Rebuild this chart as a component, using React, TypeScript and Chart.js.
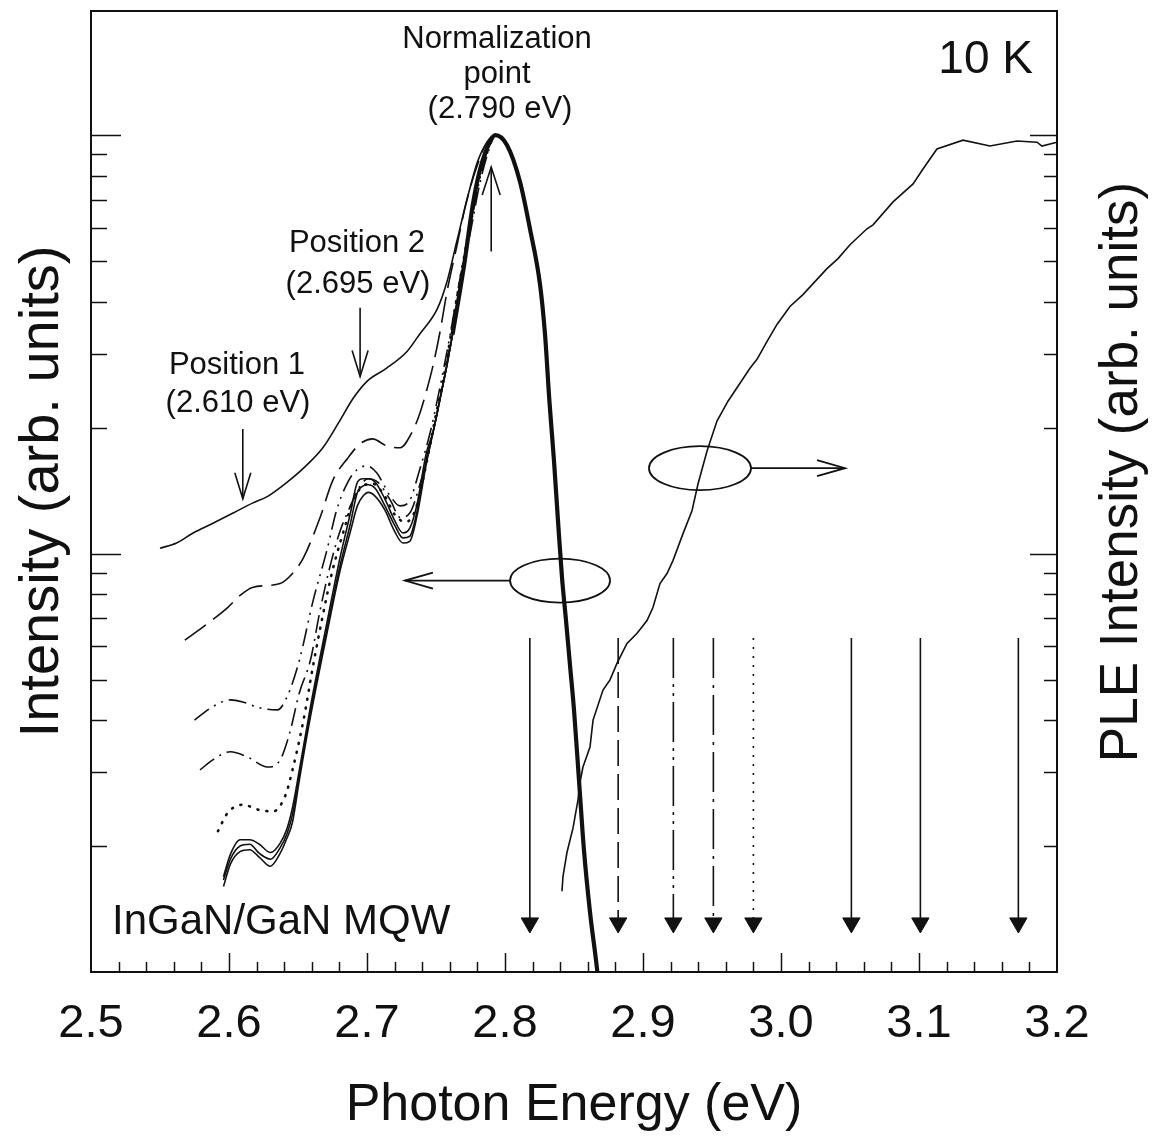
import React, { useEffect, useRef } from 'react';
import { Chart, registerables } from 'chart.js';

Chart.register(...registerables);

const FONT = '"Liberation Sans", Arial, Helvetica, sans-serif';
const W = 1153;
const H = 1138;

// ---------------- data (photon energy in eV, intensity in arb. units, log scale) ----------------
const xTickValues = [2.5, 2.6, 2.7, 2.8, 2.9, 3.0, 3.1, 3.2];

// excitation energies (arrows)
const excitationEnergies = [2.818, 2.882, 2.922, 2.951, 2.98, 3.051, 3.101, 3.172];
const excitationDash: number[][] = [[], [26, 8], [40, 6, 3, 6, 3, 6], [40, 7, 3, 7], [2, 7], [], [], []];
const arrowTopI = 0.628;
const arrowTipI = 0.131;

// shared high-energy flank of the PL spectra
const flankE = [2.8014, 2.8109, 2.8181, 2.8254, 2.829, 2.8322, 2.8355, 2.8384, 2.8413, 2.8442, 2.8471];
const flankI = [9.47, 7.73, 5.97, 4.39, 3.34, 2.31, 1.665, 1.198, 0.877, 0.693, 0.541];

// PL, excitation 2.818 eV (thin solid, top)
const pl1E = [2.55, 2.562, 2.574, 2.588, 2.603, 2.617, 2.628, 2.642, 2.654, 2.668, 2.68, 2.69, 2.7, 2.714, 2.729, 2.738, 2.751, 2.758, 2.765, 2.772, 2.78, 2.787, 2.793];
const pl1I = [1.03, 1.06, 1.12, 1.18, 1.25, 1.32, 1.37, 1.48, 1.6, 1.79, 2.07, 2.35, 2.58, 2.77, 3.04, 3.34, 3.85, 4.47, 5.56, 6.92, 8.62, 9.62, 10];

// PL, excitation 2.882 eV (long dash)
const pl2E = [2.568, 2.581, 2.599, 2.608, 2.617, 2.637, 2.646, 2.654, 2.666, 2.675, 2.686, 2.695, 2.704, 2.714, 2.724, 2.733, 2.738, 2.743, 2.748, 2.753, 2.758, 2.765, 2.772, 2.78, 2.787, 2.793];
const pl2I = [0.621, 0.667, 0.743, 0.794, 0.83, 0.848, 0.896, 0.978, 1.22, 1.49, 1.69, 1.83, 1.88, 1.81, 1.79, 1.96, 2.15, 2.44, 2.83, 3.4, 4.23, 5.41, 6.92, 8.48, 9.62, 10];

// PL, excitation 2.922 eV (dash-dot-dot)
const pl3E = [2.575, 2.588, 2.601, 2.61, 2.622, 2.635, 2.642, 2.651, 2.661, 2.671, 2.678, 2.686, 2.693, 2.7, 2.707, 2.717, 2.724, 2.731, 2.738, 2.746, 2.753, 2.76, 2.767, 2.775, 2.782, 2.789, 2.793];
const pl3I = [0.4, 0.43, 0.447, 0.442, 0.428, 0.423, 0.454, 0.556, 0.773, 1.02, 1.27, 1.48, 1.59, 1.62, 1.56, 1.37, 1.3, 1.34, 1.58, 1.96, 2.51, 3.3, 4.47, 6.04, 7.94, 9.52, 10];

// PL, excitation 2.951 eV (dash-dot)
const pl4E = [2.579, 2.588, 2.601, 2.613, 2.628, 2.637, 2.644, 2.651, 2.659, 2.666, 2.673, 2.68, 2.688, 2.695, 2.701, 2.708, 2.717, 2.724, 2.731, 2.738, 2.746, 2.753, 2.76, 2.767, 2.775, 2.782, 2.789, 2.793];
const pl4I = [0.304, 0.321, 0.336, 0.327, 0.309, 0.321, 0.373, 0.465, 0.556, 0.732, 0.926, 1.12, 1.3, 1.45, 1.51, 1.48, 1.34, 1.22, 1.25, 1.45, 1.83, 2.35, 3.13, 4.3, 5.87, 7.73, 9.36, 10];

// PL, excitation 2.980 eV (dotted)
const pl5E = [2.592, 2.599, 2.61, 2.622, 2.632, 2.641, 2.646, 2.654, 2.661, 2.668, 2.675, 2.683, 2.69, 2.697, 2.704, 2.713, 2.72, 2.728, 2.735, 2.742, 2.749, 2.757, 2.764, 2.771, 2.778, 2.786, 2.793];
const pl5I = [0.217, 0.24, 0.251, 0.244, 0.242, 0.265, 0.304, 0.4, 0.541, 0.712, 0.911, 1.13, 1.34, 1.45, 1.47, 1.37, 1.24, 1.19, 1.27, 1.58, 2.07, 2.8, 3.89, 5.26, 7.12, 8.87, 10];

// PL, excitation 3.051 / 3.101 / 3.172 eV (solid)
const plSolidE = [2.596, 2.601, 2.608, 2.615, 2.622, 2.63, 2.637, 2.642, 2.646, 2.651, 2.659, 2.671, 2.68, 2.688, 2.693, 2.697, 2.701, 2.706, 2.713, 2.72, 2.726, 2.731, 2.736, 2.743, 2.748, 2.753, 2.758, 2.762, 2.77, 2.777, 2.782, 2.789, 2.793];
const pl6I = [0.169, 0.191, 0.207, 0.207, 0.202, 0.193, 0.203, 0.22, 0.247, 0.304, 0.43, 0.685, 0.962, 1.25, 1.48, 1.51, 1.51, 1.48, 1.35, 1.2, 1.12, 1.15, 1.3, 1.74, 1.96, 2.35, 2.83, 3.34, 4.8, 6.92, 8.3, 9.62, 10];
const pl7I = [0.166, 0.186, 0.2, 0.202, 0.192, 0.186, 0.198, 0.214, 0.238, 0.297, 0.418, 0.663, 0.921, 1.18, 1.4, 1.45, 1.46, 1.43, 1.3, 1.17, 1.09, 1.1, 1.25, 1.68, 1.96, 2.35, 2.83, 3.34, 4.8, 6.92, 8.3, 9.62, 10];
const pl8I = [0.16, 0.181, 0.194, 0.196, 0.188, 0.179, 0.192, 0.209, 0.228, 0.288, 0.407, 0.645, 0.896, 1.13, 1.3, 1.37, 1.4, 1.37, 1.27, 1.13, 1.06, 1.07, 1.22, 1.64, 1.96, 2.35, 2.83, 3.34, 4.8, 6.92, 8.3, 9.62, 10];

// heavy curve around the peak and its full high-energy tail
const thickE = [2.762, 2.77, 2.777, 2.782, 2.789, 2.793, 2.8014, 2.8109, 2.8181, 2.8254, 2.829, 2.8322, 2.8355, 2.8384, 2.8413, 2.8442, 2.8471, 2.85, 2.8536, 2.8572, 2.8616, 2.8667, 2.8674];
const thickI = [3.34, 4.8, 6.92, 8.3, 9.62, 10, 9.47, 7.73, 5.97, 4.39, 3.34, 2.31, 1.665, 1.198, 0.877, 0.693, 0.541, 0.423, 0.288, 0.196, 0.139, 0.1016, 0.0962];

// PLE spectrum (right axis)
const pleE = [2.8413, 2.842, 2.8449, 2.8493, 2.8529, 2.8543, 2.8565, 2.8616, 2.8638, 2.871, 2.8761, 2.8812, 2.8884, 2.8957, 2.9029, 2.9072, 2.9123, 2.9174, 2.9217, 2.929, 2.9355, 2.9399, 2.9464, 2.9536, 2.9616, 2.9775, 2.9826, 2.9899, 2.9971, 3.0065, 3.0159, 3.0333, 3.0413, 3.05, 3.0623, 3.0667, 3.0812, 3.0957, 3.1029, 3.113, 3.1319, 3.1514, 3.171, 3.1855, 3.1891, 3.2];
const pleI = [0.156, 0.169, 0.193, 0.221, 0.258, 0.283, 0.309, 0.345, 0.4, 0.472, 0.499, 0.547, 0.61, 0.645, 0.692, 0.743, 0.848, 0.896, 0.962, 1.116, 1.266, 1.468, 1.758, 2.073, 2.313, 2.773, 2.912, 3.215, 3.529, 3.894, 4.157, 4.797, 5.069, 5.47, 5.973, 6.105, 6.925, 7.644, 8.298, 9.263, 9.729, 9.418, 9.68, 9.619, 9.418, 9.619];

const Y_MIN = 0.1;
const Y_MAX = 19.8;

// ---------------- helpers ----------------
const pts = (E: number[], I: number[]) => E.map((x, i) => ({ x, y: I[i] }));

function openArrow(ctx: CanvasRenderingContext2D, x1: number, y1: number, x2: number, y2: number, head = 27, half = 8) {
  ctx.beginPath();
  ctx.moveTo(x1, y1);
  ctx.lineTo(x2, y2);
  ctx.stroke();
  const ang = Math.atan2(y2 - y1, x2 - x1);
  const bx = x2 - head * Math.cos(ang);
  const by = y2 - head * Math.sin(ang);
  const nx = -Math.sin(ang) * half;
  const ny = Math.cos(ang) * half;
  ctx.beginPath();
  ctx.moveTo(bx + nx, by + ny);
  ctx.lineTo(x2, y2);
  ctx.lineTo(bx - nx, by - ny);
  ctx.stroke();
}

const decorPlugin = {
  id: 'decor',
  afterDatasetsDraw(chart: any) {
    const { ctx, chartArea: a, scales } = chart;
    const xs = scales.x;
    const ys = scales.y;
    const px = (e: number) => xs.getPixelForValue(e);
    const py = (v: number) => ys.getPixelForValue(v);
    ctx.save();
    ctx.strokeStyle = '#111';
    ctx.fillStyle = '#111';
    ctx.setLineDash([]);

    // frame
    ctx.lineWidth = 2;
    ctx.strokeRect(a.left, a.top, a.right - a.left, a.bottom - a.top);

    // x ticks (inward)
    ctx.lineWidth = 1.5;
    for (let k = 1; k < 35; k++) {
      const v = 2.5 + k * 0.02;
      const x = Math.round(px(v)) + 0.5;
      const len = k % 5 === 0 ? 19 : 10;
      ctx.beginPath();
      ctx.moveTo(x, a.bottom);
      ctx.lineTo(x, a.bottom - len);
      ctx.stroke();
    }
    // log y ticks both sides
    const logTicks: number[] = [];
    for (const dec of [0.1, 1, 10]) for (let m = 1; m <= 9; m++) logTicks.push(+(m * dec).toFixed(3));
    for (const v of logTicks) {
      if (v <= Y_MIN || v >= Y_MAX) continue;
      const y = Math.round(py(v)) + 0.5;
      const major = v === 1 || v === 10;
      ctx.beginPath();
      ctx.moveTo(a.left, y);
      ctx.lineTo(a.left + (major ? 30 : 16), y);
      ctx.moveTo(a.right, y);
      ctx.lineTo(a.right - (major ? 27 : 13), y);
      ctx.stroke();
    }

    // annotation arrows
    ctx.lineWidth = 1.6;
    openArrow(ctx, px(2.61), py(1.985), px(2.61), py(1.352), 26, 8);
    openArrow(ctx, px(2.695), py(3.87), px(2.695), py(2.65), 26, 8);
    openArrow(ctx, px(2.79), py(5.27), px(2.79), py(8.39), 28, 9);

    // ellipses with arrows
    ctx.lineWidth = 1.8;
    const plCx = px(2.8399), plCy = py(0.862);
    ctx.beginPath();
    ctx.ellipse(plCx, plCy, 50, 22, 0, 0, Math.PI * 2);
    ctx.stroke();
    openArrow(ctx, plCx - 50, plCy, px(2.7275), plCy, 28, 8);
    const pleCx = px(2.9413), pleCy = py(1.6);
    ctx.beginPath();
    ctx.ellipse(pleCx, pleCy, 51, 22, 0, 0, Math.PI * 2);
    ctx.stroke();
    openArrow(ctx, pleCx + 51, pleCy, px(3.0464), pleCy, 28, 8);

    // texts
    ctx.textBaseline = 'alphabetic';
    ctx.textAlign = 'center';
    ctx.font = `31px ${FONT}`;
    ctx.fillText('Normalization', 497, 48);
    ctx.fillText('point', 497, 83);
    ctx.fillText('(2.790 eV)', 500, 118);
    ctx.fillText('Position 2', 357, 252);
    ctx.fillText('(2.695 eV)', 358, 293);
    ctx.fillText('Position 1', 237, 374);
    ctx.fillText('(2.610 eV)', 238, 412);
    ctx.textAlign = 'right';
    ctx.font = `46px ${FONT}`;
    ctx.fillText('10 K', 1033, 73);
    ctx.textAlign = 'left';
    ctx.font = `42px ${FONT}`;
    ctx.fillText('InGaN/GaN MQW', 112, 934);

    // right axis title (reads bottom to top)
    ctx.save();
    ctx.translate(1122, 472);
    ctx.rotate(-Math.PI / 2);
    ctx.textAlign = 'center';
    ctx.textBaseline = 'middle';
    ctx.font = `53px ${FONT}`;
    ctx.fillText('PLE Intensity (arb. units)', 0, 0);
    ctx.restore();

    ctx.restore();
  },
};

export default function App() {
  const ref = useRef<HTMLCanvasElement>(null);

  useEffect(() => {
    const canvas = ref.current;
    if (!canvas) return;

    const base = {
      borderColor: '#111',
      borderWidth: 1.6,
      pointRadius: 0,
      pointHoverRadius: 0,
      fill: false,
      cubicInterpolationMode: 'monotone' as const,
      yAxisID: 'y',
    };

    const plDatasets = [
      { label: 'PL 2.818 eV', data: pts(pl1E.concat(flankE), pl1I.concat(flankI)), borderDash: [] as number[] },
      { label: 'PL 2.882 eV', data: pts(pl2E.concat(flankE), pl2I.concat(flankI)), borderDash: [26, 9] },
      { label: 'PL 2.922 eV', data: pts(pl3E.concat(flankE), pl3I.concat(flankI)), borderDash: [18, 6, 2, 6, 2, 6] },
      { label: 'PL 2.951 eV', data: pts(pl4E.concat(flankE), pl4I.concat(flankI)), borderDash: [18, 6, 2, 6] },
      { label: 'PL 2.980 eV', data: pts(pl5E.concat(flankE), pl5I.concat(flankI)), borderDash: [1, 8], borderWidth: 2.6, borderCapStyle: 'round' as const },
      { label: 'PL 3.051 eV', data: pts(plSolidE.concat(flankE), pl6I.concat(flankI)), borderDash: [] as number[] },
      { label: 'PL 3.101 eV', data: pts(plSolidE.concat(flankE), pl7I.concat(flankI)), borderDash: [] as number[] },
      { label: 'PL 3.172 eV', data: pts(plSolidE.concat(flankE), pl8I.concat(flankI)), borderDash: [] as number[] },
    ].map((d) => ({ ...base, ...d }));

    const thick = { ...base, label: 'PL peak', data: pts(thickE, thickI), borderWidth: 4.2 };

    const ple = { ...base, label: 'PLE', data: pts(pleE, pleI), yAxisID: 'y2', cubicInterpolationMode: 'default' as const, tension: 0 };

    const arrows = excitationEnergies.map((e, i) => ({
      label: `exc ${e}`,
      data: [
        { x: e, y: arrowTopI },
        { x: e, y: arrowTipI },
      ],
      borderColor: '#111',
      borderWidth: 1.6,
      borderDash: excitationDash[i],
      borderCapStyle: 'butt' as const,
      pointRadius: [0, 10],
      pointStyle: 'triangle' as const,
      pointRotation: 180,
      pointBackgroundColor: '#111',
      pointBorderColor: '#111',
      pointBorderWidth: 1,
      fill: false,
      tension: 0,
      yAxisID: 'y',
    }));

    const chart = new Chart(canvas, {
      type: 'line',
      data: { datasets: [...plDatasets, thick, ple, ...arrows] as any },
      plugins: [decorPlugin],
      options: {
        responsive: false,
        animation: false,
        devicePixelRatio: 1,
        events: [],
        layout: { padding: { top: 8, left: 0, right: 0, bottom: 0 } },
        plugins: { legend: { display: false }, tooltip: { enabled: false } },
        scales: {
          x: {
            type: 'linear',
            position: 'bottom',
            min: 2.5,
            max: 3.2,
            afterBuildTicks: (s: any) => {
              s.ticks = xTickValues.map((v) => ({ value: v }));
            },
            ticks: {
              autoSkip: false,
              maxRotation: 0,
              padding: 24,
              color: '#111',
              font: { family: FONT, size: 47 },
              callback: (v: any) => Number(v).toFixed(1),
            },
            grid: { display: false, drawTicks: false },
            border: { display: false },
            title: {
              display: true,
              text: 'Photon Energy (eV)',
              color: '#111',
              font: { family: FONT, size: 52 },
              padding: { top: 0, bottom: 1 },
            },
            afterFit: (s: any) => {
              s.height = 166;
            },
          },
          y: {
            type: 'logarithmic',
            position: 'left',
            min: Y_MIN,
            max: Y_MAX,
            ticks: { display: false },
            grid: { display: false, drawTicks: false },
            border: { display: false },
            title: {
              display: true,
              text: 'Intensity (arb. units)',
              color: '#111',
              font: { family: FONT, size: 56 },
              padding: { top: 9, bottom: 0 },
            },
            afterFit: (s: any) => {
              s.width = 91;
            },
          },
          y2: {
            type: 'logarithmic',
            position: 'right',
            min: Y_MIN,
            max: Y_MAX,
            ticks: { display: false },
            grid: { display: false, drawTicks: false },
            border: { display: false },
            afterFit: (s: any) => {
              s.width = 96;
            },
          },
        },
      } as any,
    });

    return () => chart.destroy();
  }, []);

  return (
    <div style={{ position: 'absolute', left: 0, top: 0, width: W, height: H, background: '#fff' }}>
      <canvas ref={ref} width={W} height={H} style={{ display: 'block', width: W, height: H }} />
    </div>
  );
}
